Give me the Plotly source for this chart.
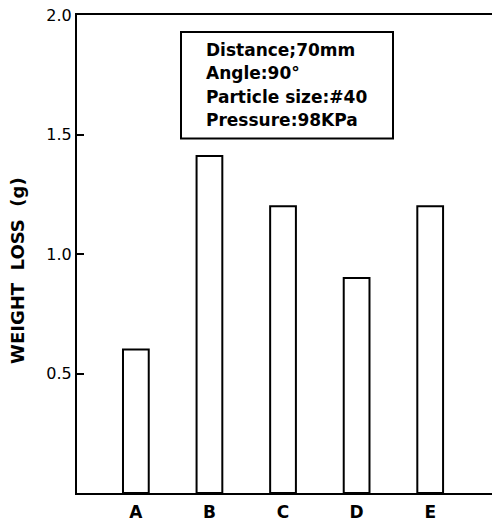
import plotly.graph_objects as go

categories = ["A", "B", "C", "D", "E"]
weight_loss = [0.60, 1.41, 1.20, 0.90, 1.20]
y_ticks = [0.5, 1.0, 1.5, 2.0]
y_tick_labels = ["0.5", "1.0", "1.5", "2.0"]
conditions = ["Distance;70mm", "Angle:90°", "Particle size:#40", "Pressure:98KPa"]
y_title = "WEIGHT  LOSS  (g)"

FONT = "DejaVu Sans"

fig = go.Figure()
fig.add_trace(go.Bar(
    x=list(range(len(categories))), y=weight_loss, width=0.35,
    marker=dict(color="white", line=dict(color="black", width=2)),
    showlegend=False,
))

fig.update_layout(
    width=494, height=524,
    margin=dict(l=77, r=2, t=15, b=29),
    paper_bgcolor="white", plot_bgcolor="white",
    font=dict(family=FONT, color="black"),
    xaxis=dict(
        range=[-0.8, 4.84], tickmode="array",
        tickvals=list(range(len(categories))),
        ticktext=[f"<b>{c}</b>" for c in categories],
        tickfont=dict(size=17, family=FONT), ticks="",
        showline=True, linecolor="black", linewidth=2, mirror=True,
        showgrid=False, zeroline=False, ticklabelstandoff=3,
    ),
    yaxis=dict(
        range=[0, 2.0], tickmode="array", tickvals=y_ticks, ticktext=y_tick_labels,
        tickfont=dict(size=16, family=FONT), ticks="inside", ticklen=7,
        tickwidth=2, tickcolor="black",
        showline=True, linecolor="black", linewidth=2,
        showgrid=False, zeroline=False,
    ),
)

# y-axis title
fig.add_annotation(xref="paper", yref="paper", x=(18 - 77) / 415, y=(495 - 272) / 480,
                   xanchor="center", yanchor="middle", showarrow=False, textangle=-90,
                   text=f"<b>{y_title}</b>", font=dict(size=18, family=FONT, color="black"))

# condition box
x0, x1 = (181 - 77) / 415, (393 - 77) / 415
y0, y1 = (495 - 139) / 480, (495 - 32) / 480
fig.add_shape(type="rect", xref="paper", yref="paper", x0=x0, x1=x1, y0=y0, y1=y1,
              line=dict(color="black", width=2), fillcolor="white")
line_y = [50, 73.5, 97, 120.5]
for txt, py in zip(conditions, line_y):
    fig.add_annotation(xref="paper", yref="paper", x=(204 - 77) / 415, y=(495 - py) / 480,
                       xanchor="left", yanchor="middle", showarrow=False,
                       text=f"<b>{txt}</b>", font=dict(size=17, family=FONT, color="black"))

fig.write_html("out.html")
